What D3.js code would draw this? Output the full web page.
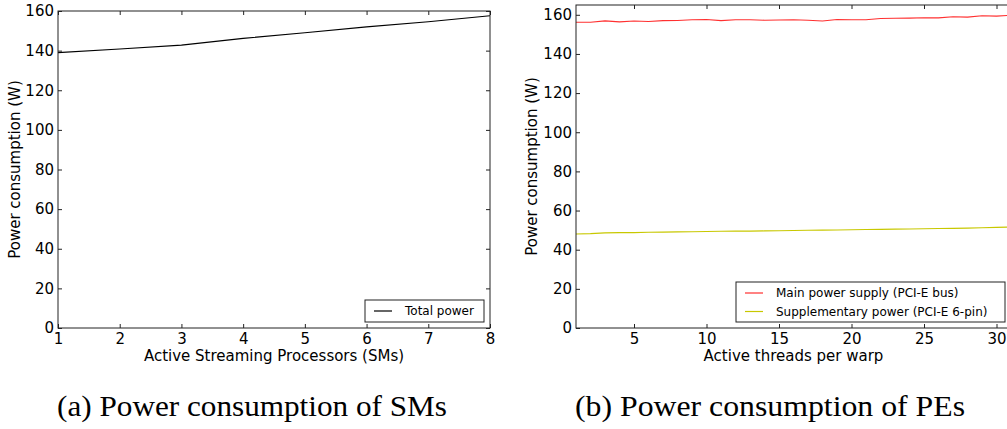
<!DOCTYPE html>
<html>
<head>
<meta charset="utf-8">
<script src="https://cdn.jsdelivr.net/npm/d3@7"></script>
<style>
  body { margin: 0; background: #fff; }
</style>
</head>
<body>
<script>
// left chart: total power vs active SMs
var smCount = [1, 2, 3, 4, 5, 6, 7, 8];
var totalPower = [139.0, 140.8, 142.8, 146.2, 149.0, 152.0, 154.6, 157.6];

// right chart: power vs active threads per warp
var threads = [1, 2, 3, 4, 5, 6, 7, 8, 9, 10, 11, 12, 13, 14, 15, 16,
               17, 18, 19, 20, 21, 22, 23, 24, 25, 26, 27, 28, 29, 30, 31];
var mainPower = [156.2, 156.2, 156.9, 156.4, 156.8, 156.6, 157.0, 157.1, 157.5, 157.6,
                 157.0, 157.5, 157.5, 157.2, 157.3, 157.5, 157.2, 156.8, 157.6, 157.5,
                 157.5, 158.1, 158.2, 158.3, 158.5, 158.4, 159.0, 158.8, 159.5, 159.3, 159.8];
var suppPower = [48.0, 48.2, 48.6, 48.7, 48.7, 48.9, 49.0, 49.1, 49.2, 49.3,
                 49.4, 49.5, 49.5, 49.6, 49.7, 49.8, 49.9, 50.0, 50.1, 50.2,
                 50.3, 50.4, 50.5, 50.6, 50.7, 50.8, 50.9, 51.0, 51.2, 51.4, 51.6];

var yTicks = [0, 20, 40, 60, 80, 100, 120, 140, 160];
var xTicksLeft = [1, 2, 3, 4, 5, 6, 7, 8];
var xTicksRight = [5, 10, 15, 20, 25, 30];

var sans = "'DejaVu Sans', sans-serif";
var serif = "'Liberation Serif', 'DejaVu Serif', serif";

var svg = d3.select("body").append("svg")
    .attr("width", 1007)
    .attr("height", 429);

function panel(opt) {
    var g = svg.append("g");
    var x = d3.scaleLinear().domain(opt.xDomain).range([opt.left, opt.right]);
    var y = d3.scaleLinear().domain(opt.yDomain).range([opt.bottom, opt.top]);

    // inward ticks on all four sides (matplotlib classic look)
    g.append("g").attr("transform", "translate(0," + opt.bottom + ")")
        .call(d3.axisBottom(x).tickValues(opt.xTicks).tickFormat(d3.format("d")).tickSize(-4).tickPadding(5));
    g.append("g").attr("transform", "translate(" + opt.left + ",0)")
        .call(d3.axisLeft(y).tickValues(yTicks).tickFormat(d3.format("d")).tickSize(-4).tickPadding(4));
    g.append("g").attr("transform", "translate(0," + opt.top + ")")
        .call(d3.axisTop(x).tickValues(opt.xTicks).tickSize(-4).tickFormat(""));
    g.append("g").attr("transform", "translate(" + opt.right + ",0)")
        .call(d3.axisRight(y).tickValues(yTicks).tickSize(-4).tickFormat(""));

    g.selectAll(".domain").remove();
    g.selectAll(".tick line").attr("stroke", "#222");
    g.selectAll(".tick text").attr("font-family", sans).attr("font-size", 15).attr("fill", "#000");

    // series
    opt.series.forEach(function(s) {
        var line = d3.line()
            .x(function(d, i) { return x(opt.xs[i]); })
            .y(function(d) { return y(d); });
        g.append("path")
            .datum(s.values)
            .attr("fill", "none")
            .attr("stroke", s.color)
            .attr("stroke-width", 1.1)
            .attr("d", line);
    });

    // frame
    g.append("rect")
        .attr("x", opt.left).attr("y", opt.top)
        .attr("width", opt.right - opt.left).attr("height", opt.bottom - opt.top)
        .attr("fill", "none").attr("stroke", "#222").attr("stroke-width", 1);

    // axis labels
    g.append("text")
        .attr("x", (opt.left + opt.right) / 2)
        .attr("y", opt.bottom + 33)
        .attr("text-anchor", "middle")
        .attr("font-family", sans).attr("font-size", 15)
        .text(opt.xLabel);
    g.append("text")
        .attr("transform", "translate(" + opt.yLabelX + "," + (opt.top + opt.bottom) / 2 + ") rotate(-90)")
        .attr("text-anchor", "middle")
        .attr("dy", "0.35em")
        .attr("font-family", sans).attr("font-size", 15)
        .text("Power consumption (W)");

    // legend
    var lg = g.append("g");
    lg.append("rect")
        .attr("x", opt.legend.x).attr("y", opt.legend.y)
        .attr("width", opt.legend.w).attr("height", opt.legend.h)
        .attr("fill", "#fff").attr("stroke", "#222").attr("stroke-width", 1);
    opt.series.forEach(function(s, i) {
        var ly = opt.legend.y + 11 + i * 18.5;
        lg.append("line")
            .attr("x1", opt.legend.x + 9).attr("x2", opt.legend.x + 27)
            .attr("y1", ly).attr("y2", ly)
            .attr("stroke", s.color).attr("stroke-width", 1.2);
        lg.append("text")
            .attr("x", opt.legend.x + opt.legend.tx)
            .attr("y", ly)
            .attr("dy", "0.35em")
            .attr("font-family", sans).attr("font-size", 12)
            .text(s.name);
    });

    // caption (LaTeX-like serif)
    g.append("text")
        .attr("x", opt.capX)
        .attr("y", 416)
        .attr("textLength", 390)
        .attr("lengthAdjust", "spacingAndGlyphs")
        .attr("font-family", serif).attr("font-size", 29)
        .text(opt.caption);
}

panel({
    left: 58, right: 490, top: 11, bottom: 328,
    xDomain: [1, 8], yDomain: [0, 160],
    xTicks: xTicksLeft, xs: smCount,
    series: [{ name: "Total power", color: "#000", values: totalPower }],
    xLabel: "Active Streaming Processors (SMs)",
    yLabelX: 15,
    legend: { x: 365, y: 300, w: 119, h: 22, tx: 40 },
    capX: 57,
    caption: "(a) Power consumption of SMs"
});

panel({
    left: 576, right: 1011, top: 5, bottom: 328,
    xDomain: [1, 31], yDomain: [0, 165],
    xTicks: xTicksRight, xs: threads,
    series: [
        { name: "Main power supply (PCI-E bus)", color: "#ff3030", values: mainPower },
        { name: "Supplementary power (PCI-E 6-pin)", color: "#c8c800", values: suppPower }
    ],
    xLabel: "Active threads per warp",
    yLabelX: 532,
    legend: { x: 736, y: 282, w: 269, h: 40, tx: 40 },
    capX: 575,
    caption: "(b) Power consumption of PEs"
});
</script>
</body>
</html>
